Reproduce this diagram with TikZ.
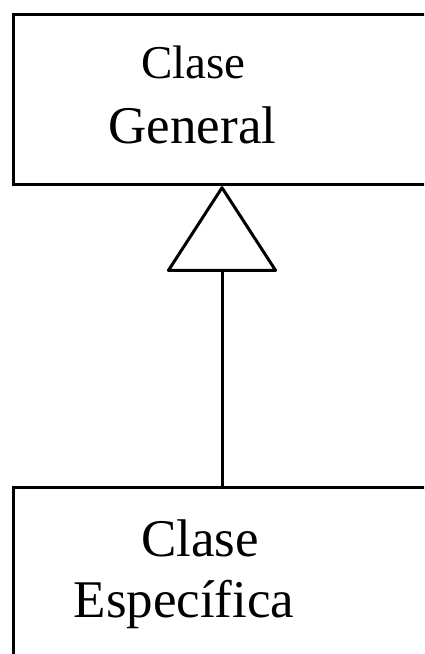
\documentclass[tikz,border=0pt]{standalone}
\usepackage{fontspec}
\setmainfont{Liberation Serif}
\usetikzlibrary{arrows.meta}
\begin{document}
\begin{tikzpicture}[x=1pt,y=-1pt,
  classbox/.style={draw, line width=3.2pt, minimum width=440pt, inner sep=0pt, anchor=north west},
  classname/.style={anchor=base, inner sep=0pt, font=\fontsize{53}{60}\selectfont},
  inherits/.style={line width=3pt, -{Triangle[open, length=87pt, width=112pt, round]}}]
\useasboundingbox (0,0) rectangle (424,654);
\clip (0,0) rectangle (424,654);
% the two classes
\node[classbox, minimum height=170pt] (general) at (12,13) {};
\node[classbox, minimum height=220pt] (specific) at (12,486) {};
% class names
\node[classname, font=\fontsize{47}{52}\selectfont] (generalA) at (193.5,78) {Clase};
\node[classname] (generalB) at (192.5,143) {General};
\node[classname] (specificA) at (200,556) {Clase};
\node[classname] (specificB) at (184,617) {Específica};
% generalization arrow
\coordinate (axis) at (222,0);
\draw[inherits] (specific.north -| axis) -- (general.south -| axis);
\end{tikzpicture}
\end{document}
